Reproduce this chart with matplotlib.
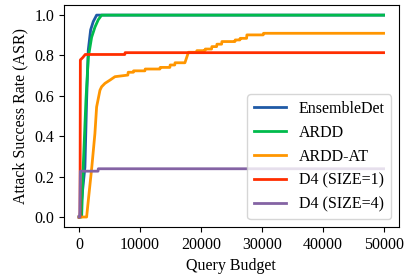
import matplotlib

matplotlib.use("Agg")
import matplotlib.pyplot as plt

plt.rcParams["font.family"] = ["Liberation Serif", "DejaVu Serif"]
plt.rcParams["mathtext.fontset"] = "stix"

# Attack success rate vs. query budget, curves
ens_x = [0, 130, 950, 1230, 1500, 1890, 2320, 2870, 50000]
ens_y = [0.0, 0.0, 0.247, 0.579, 0.827, 0.927, 0.968, 1.0, 1.0]

ardd_x = [0, 410, 670, 1120, 1500, 2050, 2590, 3140, 3690, 50000]
ardd_y = [0.0, 0.0, 0.247, 0.58, 0.79, 0.89, 0.94, 0.977, 1.0, 1.0]

ardd_at_x = [0, 1230, 1500, 2080, 2590, 2870, 3420, 3690, 4240, 5060, 5880,
             8000, 8060, 8900, 8950, 10800, 10850, 13270, 13320, 14900, 14950,
             15700, 15750, 17370, 17950, 19290, 19340, 20660, 20710, 21750,
             21800, 22580, 22630, 23400, 23450, 25580, 25630, 26400, 26450,
             27500, 27550, 30230, 30280, 50000]
ardd_at_y = [0.0, 0.0, 0.08, 0.247, 0.413, 0.545, 0.628, 0.645, 0.662, 0.678,
             0.695, 0.703, 0.717, 0.717, 0.724, 0.724, 0.733, 0.733, 0.741,
             0.741, 0.753, 0.753, 0.764, 0.764, 0.816, 0.816, 0.824, 0.824,
             0.832, 0.832, 0.844, 0.844, 0.856, 0.856, 0.869, 0.869, 0.877,
             0.877, 0.885, 0.885, 0.902, 0.902, 0.910, 0.910]

d4_1_x = [0, 150, 200, 600, 1000, 7500, 7550, 50000]
d4_1_y = [0.0, 0.0, 0.778, 0.79, 0.805, 0.805, 0.814, 0.814]

d4_4_x = [0, 100, 200, 3100, 3150, 50000]
d4_4_y = [0.0, 0.0, 0.227, 0.227, 0.239, 0.239]

labels = ["EnsembleDet", "ARDD", "ARDD-AT", "D4 (SIZE=1)", "D4 (SIZE=4)"]
colors = ["#1f5aa6", "#00bb4c", "#ff9600", "#ff2e00", "#8463a4"]

fig = plt.figure(figsize=(4.15, 2.79), dpi=100)
ax = fig.add_axes([0.154, 0.186, 0.807, 0.796])

series = [(ens_x, ens_y), (ardd_x, ardd_y), (ardd_at_x, ardd_at_y),
          (d4_1_x, d4_1_y), (d4_4_x, d4_4_y)]
for (xs, ys), lab, col in zip(series, labels, colors):
    ax.plot(xs, ys, color=col, lw=2, label=lab)

ax.set_xticks([0, 10000, 20000, 30000, 40000, 50000])
ax.set_yticks([0.0, 0.2, 0.4, 0.6, 0.8, 1.0])
ax.tick_params(labelsize=11.5)
ax.set_xlabel("Query Budget", fontsize=11.5)
ax.set_ylabel("Attack Success Rate (ASR)", fontsize=11.5)
ax.legend(loc="lower right", fontsize=11.5)

fig.savefig("out.png", dpi=100)
